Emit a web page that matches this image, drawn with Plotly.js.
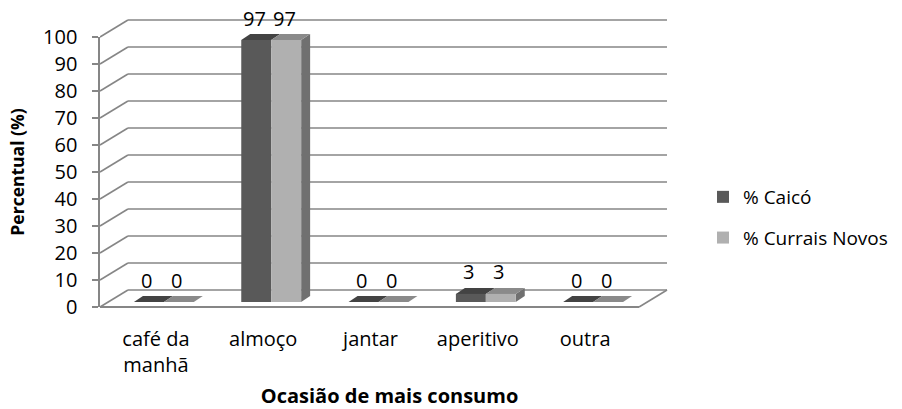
<!DOCTYPE html>
<html>
<head>
<meta charset="utf-8">
<script src="https://cdn.plot.ly/plotly-3.0.1.min.js"></script>
<style>html,body{margin:0;padding:0;background:#fff;}#chart{width:902px;height:409px;}</style>
</head>
<body>
<div id="chart"></div>
<script>
// ---- data ----
const categories = ['café da<br>manhã', 'almoço', 'jantar', 'aperitivo', 'outra'];
const seriesNames = ['% Caicó', '% Currais Novos'];
const caico = [0, 97, 0, 3, 0];
const curraisNovos = [0, 97, 0, 3, 0];
const yTicks = [0, 10, 20, 30, 40, 50, 60, 70, 80, 90, 100];

// ---- geometry (pixels -> data units) ----
const W = 902, H = 409;
const L = 100, R = 222, T = 10, B = 97;
const plotW = W - L - R, plotH = H - T - B;
const pxPerCat = 107.5;           // px per category
const pxPerUnit = 2.7;            // px per percent
const x0px = 164;                 // pixel of category 0 centre (bar plane)
const y0px = 302;                 // pixel of value 0 (bar plane)
const xr = [(L - x0px) / pxPerCat, (W - R - x0px) / pxPerCat];
const yr = [-(H - B - y0px) / pxPerUnit, (y0px - T) / pxPerUnit];
const dx = p => p / pxPerCat, dy = p => p / pxPerUnit;

// planes relative to bar plane
const front = {x: dx(-8), y: dy(-5)};
const back = {x: dx(20), y: dy(12)};
const frontLeft = xr[0];
const backLeft = frontLeft + (back.x - front.x);
const frontRight = dx(640 - x0px);
const backRight = frontRight + (back.x - front.x);
const barDepth = {x: dx(9), y: dy(6)};

const gridColor = '#868686';
const shapes = [];
yTicks.forEach(v => {
  shapes.push({type: 'line', layer: 'below', xref: 'x', yref: 'y',
    x0: backLeft, y0: v + back.y, x1: backRight, y1: v + back.y,
    line: {color: gridColor, width: 1.6}});
  shapes.push({type: 'line', layer: 'below', xref: 'x', yref: 'y',
    x0: frontLeft, y0: v + front.y, x1: backLeft, y1: v + back.y,
    line: {color: gridColor, width: 1.6}});
});
// floor front and right edges
shapes.push({type: 'line', layer: 'below', xref: 'x', yref: 'y',
  x0: frontLeft, y0: front.y, x1: frontRight, y1: front.y,
  line: {color: gridColor, width: 1.8}});
shapes.push({type: 'line', layer: 'below', xref: 'x', yref: 'y',
  x0: frontRight, y0: front.y, x1: backRight, y1: back.y,
  line: {color: gridColor, width: 1.6}});

// 3D faces of bars
const bargap = 0.442;
const barW = (1 - bargap) / 2;
const series = [caico, curraisNovos];
const topColors = ['#434343', '#8a8a8a'];
const sideColor = '#707070';
function poly(pts) {
  return 'M' + pts.map(p => p[0] + ',' + p[1]).join('L') + 'Z';
}
series.forEach((vals, s) => {
  vals.forEach((v, i) => {
    const xl = i - barW + s * barW, xrr = xl + barW;
    if (s === 1) {
      shapes.push({type: 'path', layer: 'below', xref: 'x', yref: 'y', line: {width: 0},
        fillcolor: sideColor,
        path: poly([[xrr, 0], [xrr, v], [xrr + barDepth.x, v + barDepth.y], [xrr + barDepth.x, barDepth.y]])});
    }
    shapes.push({type: 'path', layer: 'below', xref: 'x', yref: 'y', line: {width: 0},
      fillcolor: topColors[s],
      path: poly([[xl, v], [xrr, v], [xrr + barDepth.x, v + barDepth.y], [xl + barDepth.x, v + barDepth.y]])});
  });
});

// value labels
const annotations = [];
series.forEach((vals, s) => {
  vals.forEach((v, i) => {
    annotations.push({x: i - barW / 2 + s * barW, y: v, xref: 'x', yref: 'y',
      text: String(v), showarrow: false, yanchor: 'middle', xanchor: 'center',
      yshift: 22, xshift: -2, font: {family: 'Open Sans', size: 20, color: '#000'}});
  });
});

const xIdx = categories.map((c, i) => i);
const traces = [
  {type: 'bar', x: xIdx, y: caico, name: seriesNames[0], legendgroup: 'a',
   marker: {color: '#595959', line: {width: 0}}, hoverinfo: 'none'},
  {type: 'bar', x: xIdx, y: curraisNovos, name: seriesNames[1], legendgroup: 'b',
   marker: {color: '#b0b0b0', line: {width: 0}}, hoverinfo: 'none'},
  {type: 'scatter', x: [], y: [], xaxis: 'x2', yaxis: 'y2', showlegend: false, hoverinfo: 'none'}
];

const pp = p => (H - B - p) / plotH; // pixel y -> paper y
const layout = {
  width: W, height: H,
  margin: {l: L, r: R, t: T, b: B, pad: 0},
  paper_bgcolor: '#fff', plot_bgcolor: 'rgba(0,0,0,0)',
  font: {family: 'Open Sans', size: 20, color: '#000'},
  barmode: 'group', bargap: bargap, bargroupgap: 0,
  showlegend: true,
  legend: {x: (703 - L) / plotW, y: pp(178), xanchor: 'left', yanchor: 'top',
    font: {family: 'Open Sans', size: 19, color: '#000'}, tracegroupgap: 13,
    bgcolor: 'rgba(0,0,0,0)', borderwidth: 0},
  xaxis: {domain: [0, 1], range: xr, visible: false, fixedrange: true},
  yaxis: {domain: [0, 1], range: yr, visible: false, fixedrange: true},
  xaxis2: {domain: [0, 1], anchor: 'y2', range: [xr[0] - front.x, xr[1] - front.x],
    tickmode: 'array', tickvals: xIdx, ticktext: categories, ticks: '',
    showline: false, showgrid: false, zeroline: false, ticklabelstandoff: 18,
    tickfont: {family: 'Open Sans', size: 20, color: '#000'},
    title: {text: 'Ocasião de mais consumo', standoff: 17,
      font: {family: 'Open Sans', size: 20, color: '#000', weight: 'bold'}},
    fixedrange: true},
  yaxis2: {domain: [pp(307), pp(37)], anchor: 'x2', range: [0, 100],
    tickmode: 'array', tickvals: yTicks, ticks: 'outside', ticklen: 6,
    tickcolor: gridColor, tickwidth: 1.5, showline: true, linecolor: gridColor, linewidth: 1.6,
    showgrid: false, zeroline: false, ticklabelstandoff: 11,
    tickfont: {family: 'Open Sans', size: 20, color: '#000'},
    title: {text: 'Percentual (%)', standoff: 14,
      font: {family: 'Open Sans', size: 17.5, color: '#000', weight: 'bold'}},
    fixedrange: true},
  shapes: shapes,
  annotations: annotations
};

Plotly.newPlot('chart', traces, layout, {displayModeBar: false, staticPlot: true});
</script>
</body>
</html>
